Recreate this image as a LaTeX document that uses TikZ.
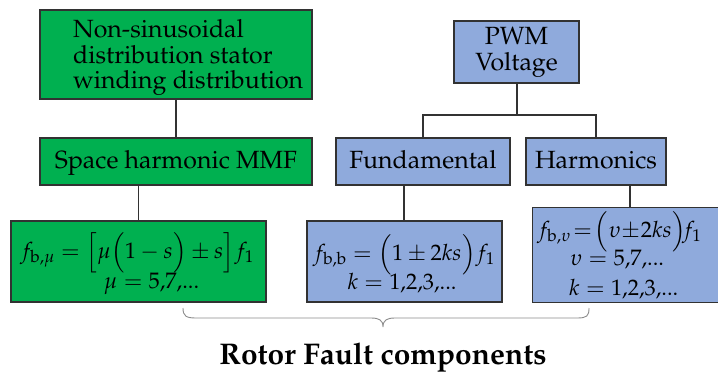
\documentclass[tikz,border=0pt]{standalone}
\usepackage[T1]{fontenc}
\usepackage{mathpazo}
\definecolor{boxgreen}{RGB}{0,176,80}
\definecolor{boxblue}{RGB}{143,170,220}
\definecolor{edge}{RGB}{50,50,50}
\definecolor{bracegray}{RGB}{140,140,140}
\tikzset{
  gbox/.style={draw=edge, line width=1.3bp, fill=boxgreen, inner sep=0pt, align=center,
    font=\fontsize{25}{26}\selectfont, text height=18bp, text depth=5bp},
  bbox/.style={draw=edge, line width=1.3bp, fill=boxblue, inner sep=0pt, align=center,
    font=\fontsize{25}{26}\selectfont},
  txt/.style={inner sep=0pt, align=left, font=\fontsize{25}{25.5}\selectfont},
  mth/.style={inner sep=0pt, anchor=base, font=\fontsize{22.5}{26}\selectfont},
  conn/.style={draw=edge, line width=1.3bp},
}
\begin{document}
\begin{tikzpicture}[x=1bp,y=-1bp]
\clip (0,0) rectangle (718,376);
\fill[white] (0,0) rectangle (718,376);
% green column
\node[gbox, minimum width=272bp, minimum height=89bp] (nsd) at (176,54.5) {};
\node[txt, anchor=north west] (nsdt) at (73,19.5) {Non-sinusoidal\\distribution stator\\winding distribution};
\node[gbox, minimum width=272bp, minimum height=47bp] (mmf) at (176,161.5) {Space harmonic MMF};
\node[gbox, minimum width=255bp, minimum height=81bp] (fmu) at (138.5,261.5) {};
\node[mth] (fmu1) at (137,258) {$f_{\mathrm{b},\mu}=\Bigl[\mu\Bigl(1-s\Bigr)\pm s\Bigr]f_1$};
\node[mth] (fmu2) at (151.5,288) {$\mu=5{,}7{,}...$};
% blue column
\node[bbox, minimum width=125bp, minimum height=62bp] (pwm) at (516.5,52) {PWM\\Voltage};
\node[bbox, minimum width=174bp, minimum height=47bp, text height=18bp, text depth=5bp] (fund) at (423,161.5) {Fundamental};
\node[bbox, minimum width=140bp, minimum height=47bp, text height=18bp, text depth=5bp] (harm) at (596,161.5) {Harmonics};
\node[bbox, minimum width=195bp, minimum height=81bp] (fbb) at (404.5,261.5) {};
\node[mth] (fbb1) at (404,260) {$f_{\mathrm{b},\mathrm{b}}=\Bigl(1\pm 2ks\Bigr)f_1$};
\node[mth] (fbb2) at (402,289) {$k=1{,}2{,}3{,}...$};
\node[bbox, minimum width=200bp, minimum height=95bp, anchor=north west] (fbu) at (532,207) {};
\node[mth, anchor=base west] (fbu1) at (537,237) {$f_{\mathrm{b},\upsilon}\!=\!\Bigl(\upsilon\!\pm\! 2ks\Bigr)\!f_1$};
\node[mth, anchor=base west] (fbu2) at (570,265) {$\upsilon=5{,}7{,}...$};
\node[mth, anchor=base west] (fbu3) at (569,295) {$k=1{,}2{,}3{,}...$};
% connectors
\draw[conn] (nsd.south) -- (mmf.north);
\draw[conn] (mmf.south -| fmu.north) -- (fmu.north);
\coordinate (split) at (517,115);
\draw[conn] (pwm.south -| split) -- (split);
\draw[conn] (fund.north -| 423,0) |- (split) -| (harm.north -| 596,0);
\draw[conn] (fund.south -| 404,0) -- (fbb.north -| 404,0);
\draw[conn] (harm.south -| 630,0) -- (fbu.north -| 630,0);
% brace
\draw[bracegray, line width=0.9bp] (183,308) .. controls (183,316) and (186,318) .. (196,318) -- (371,318)
  .. controls (379,318) and (383,320) .. (383,327)
  .. controls (383,320) and (387,318) .. (395,318) -- (577,318)
  .. controls (587,318) and (589,316) .. (589,308);
\node[inner sep=0pt, anchor=base, font=\fontsize{30}{34}\selectfont\bfseries] (title) at (383,364) {Rotor Fault components};
\end{tikzpicture}
\end{document}
